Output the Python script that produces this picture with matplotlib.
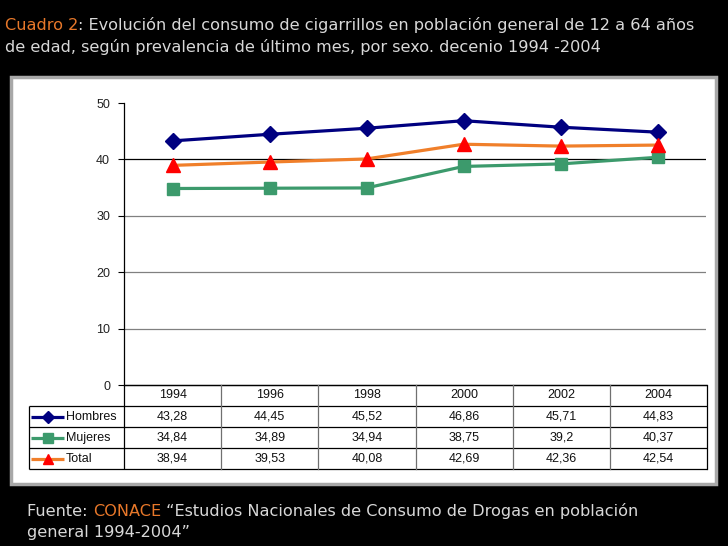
import matplotlib
matplotlib.use('Agg')
import matplotlib.pyplot as plt
from matplotlib.patches import Rectangle

years = ['1994', '1996', '1998', '2000', '2002', '2004']
hombres = [43.28, 44.45, 45.52, 46.86, 45.71, 44.83]
mujeres = [34.84, 34.89, 34.94, 38.75, 39.2, 40.37]
total = [38.94, 39.53, 40.08, 42.69, 42.36, 42.54]
series_names = ['Hombres', 'Mujeres', 'Total']
y_ticks = [0, 10, 20, 30, 40, 50]

W, H = 728, 546
fig = plt.figure(figsize=(W / 100, H / 100), dpi=100, facecolor='black')


def fx(px):
    return px / W


def fy(py):
    return 1 - py / H


# white panel behind the chart
fig.patches.append(Rectangle((fx(11), fy(484)), (716 - 11) / W, (484 - 77) / H,
                             transform=fig.transFigure, facecolor='white',
                             edgecolor='#a8a8a8', linewidth=2.5, zorder=-5))

styles = [
    dict(color='#000080', marker='D', mfc='#000080', mec='#000080', ms=8.5),
    dict(color='#3c9a6c', marker='s', mfc='#3c9a6c', mec='#3c9a6c', ms=9),
    dict(color='#f07f2a', marker='^', mfc='#ff0000', mec='#ff0000', ms=9.5),
]
data = [hombres, mujeres, total]

# plot area
ax = fig.add_axes([fx(124), fy(385), (706 - 124) / W, (385 - 103) / H])
ax.set_facecolor('none')
xs = list(range(len(years)))
for t in y_ticks[1:-1]:
    ax.axhline(t, color='black' if t == 40 else '#808080', linewidth=0.9, zorder=1)
for vals, st in zip(data, styles):
    ax.plot(xs, vals, linewidth=2.3, zorder=3, **st)
ax.set_xlim(-0.5, len(years) - 0.5)
ax.set_ylim(0, 50)
ax.set_yticks(y_ticks)
ax.set_xticks([])
ax.tick_params(axis='y', direction='out', length=4, width=0.8, labelsize=9,
               labelcolor='#222222', pad=6)
for s in ['top', 'right']:
    ax.spines[s].set_visible(False)
ax.spines['left'].set_linewidth(0.9)
ax.spines['bottom'].set_linewidth(0.9)
for lab in ax.get_yticklabels():
    lab.set_fontfamily('Liberation Sans')

# data table
colw = (707 - 124) / 6
left = -0.5 - 95 / colw
tab = fig.add_axes([fx(29), fy(469), (707 - 29) / W, (469 - 385) / H])
tab.set_xlim(left, len(years) - 0.5)
tab.set_ylim(4, 0)
tab.axis('off')
lk = dict(color='black', linewidth=0.9, solid_capstyle='butt', clip_on=False)
tab.plot([-0.5, len(years) - 0.5], [0, 0], **lk)
for r in range(1, 5):
    tab.plot([left, len(years) - 0.5], [r, r], **lk)
tab.plot([left, left], [1, 4], **lk)
tab.plot([-0.5, -0.5], [0, 4], **lk)
for i in range(len(years)):
    tab.plot([i + 0.5, i + 0.5], [0, 4], clip_on=False,
             color='black' if i == len(years) - 1 else '#707070', linewidth=0.9)
    tab.text(i, 0.5, years[i], ha='center', va='center', fontsize=9,
             family='Liberation Sans', color='#111111')
for r, (vals, st, name) in enumerate(zip(data, styles, series_names), start=1):
    for i, v in enumerate(vals):
        tab.text(i, r + 0.5, str(v).replace('.', ','), ha='center', va='center',
                 fontsize=9, family='Liberation Sans', color='#111111')
    tab.plot([left + 2 / colw, left + 35 / colw], [r + 0.5, r + 0.5],
             color=st['color'], linewidth=2.3, solid_capstyle='butt')
    tab.plot([left + 19 / colw], [r + 0.5], linestyle='none', marker=st['marker'],
             mfc=st['mfc'], mec=st['mec'], ms=st['ms'] * 0.75)
    tab.text(left + 37 / colw, r + 0.5, name, ha='left', va='center', fontsize=9,
             family='Liberation Sans', color='#111111')

# title and source text
renderer = fig.canvas.get_renderer()
orange = '#e8782a'
grey = '#d8d8d8'


def text_run(x, y, parts, size):
    for txt, col in parts:
        t = fig.text(fx(x), fy(y), txt, color=col, fontsize=size, va='center',
                     ha='left', family='DejaVu Sans')
        bb = t.get_window_extent(renderer=renderer)
        x = bb.x1


text_run(5, 25, [('Cuadro 2', orange),
                 (': Evolución del consumo de cigarrillos en población general de 12 a 64 años', grey)], 11.6)
text_run(5, 47, [('de edad, según prevalencia de último mes, por sexo. decenio 1994 -2004', grey)], 11.6)
text_run(27, 511, [('Fuente: ', grey), ('CONACE', orange),
                   (' “Estudios Nacionales de Consumo de Drogas en población', grey)], 11.6)
text_run(27, 533, [('general 1994-2004”', grey)], 11.6)

fig.savefig('out.png', dpi=100, facecolor='black')
